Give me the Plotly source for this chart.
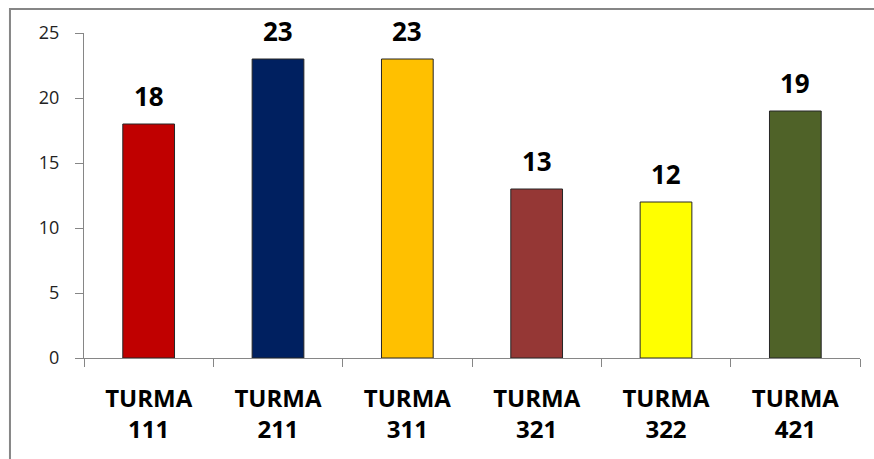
import plotly.graph_objects as go

# Alunos por turma
categories = ["TURMA<br>111", "TURMA<br>211", "TURMA<br>311", "TURMA<br>321", "TURMA<br>322", "TURMA<br>421"]
values = [18, 23, 23, 13, 12, 19]
bar_colors = ["#C00000", "#002060", "#FFC000", "#953735", "#FFFF00", "#4F6228"]
y_ticks = [0, 5, 10, 15, 20, 25]

FONT = "Open Sans"
AXIS_GRAY = "#868686"

fig = go.Figure()
fig.add_trace(go.Bar(
    x=categories,
    y=values,
    marker=dict(color=bar_colors, line=dict(color="#262626", width=1)),
    width=0.4,
    hoverinfo="skip",
))

# Value labels above each bar
for c, v in zip(categories, values):
    fig.add_annotation(
        x=c, y=v, text=f"<b>{v}</b>", showarrow=False,
        yanchor="bottom", yshift=8,
        font=dict(family=FONT, size=26, color="#000000"),
    )

# Chart-area frame
fig.add_shape(
    type="rect", xref="paper", yref="paper",
    x0=-0.0954, x1=1.05, y0=-0.40, y1=1.0738,
    line=dict(color=AXIS_GRAY, width=2), fillcolor="rgba(0,0,0,0)", layer="below",
)

fig.update_layout(
    width=874, height=459,
    margin=dict(l=84, r=14, t=33, b=101),
    paper_bgcolor="white", plot_bgcolor="white",
    showlegend=False,
    bargap=0.6,
    xaxis=dict(
        showline=True, linecolor=AXIS_GRAY, linewidth=1,
        ticks="outside", ticklen=8, tickcolor=AXIS_GRAY, tickson="boundaries",
        showgrid=False, zeroline=False,
        tickfont=dict(family=FONT, size=24, color="#000000", weight="bold"),
        ticklabelstandoff=19,
    ),
    yaxis=dict(
        range=[0, 25], tickvals=y_ticks,
        showline=True, linecolor=AXIS_GRAY, linewidth=1,
        ticks="outside", ticklen=8, tickcolor=AXIS_GRAY,
        showgrid=False, zeroline=False,
        tickfont=dict(family=FONT, size=18, color="#222222"),
        ticklabelstandoff=12,
    ),
)

fig.write_html("out.html")
